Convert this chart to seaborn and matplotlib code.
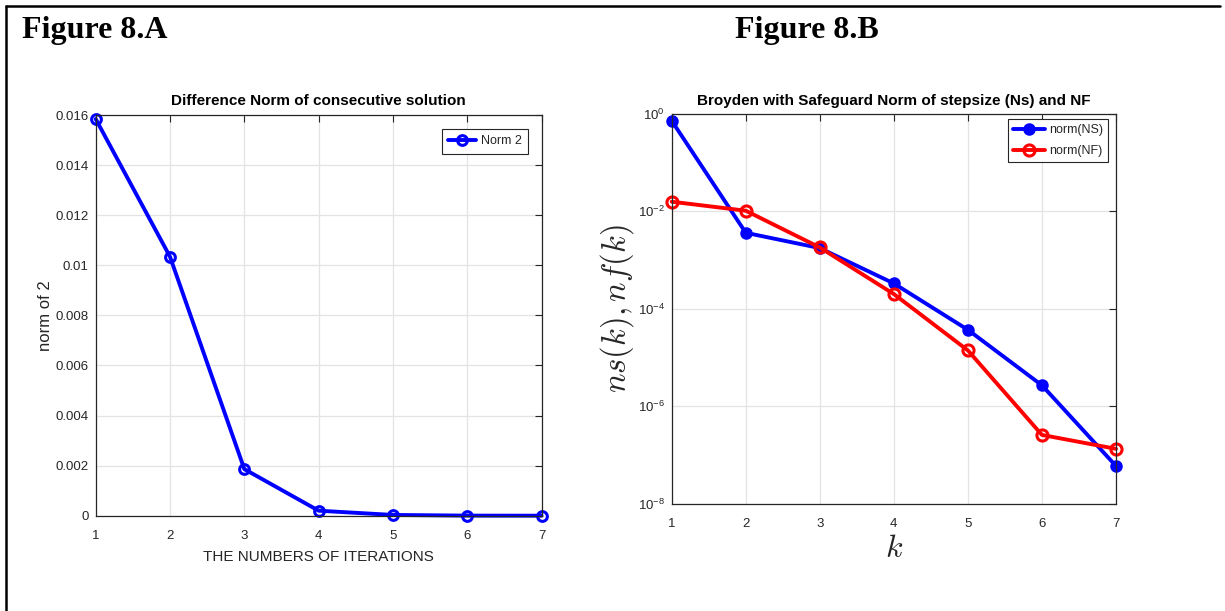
import numpy as np
import pandas as pd
import matplotlib
matplotlib.use("Agg")
import matplotlib.pyplot as plt
from matplotlib.lines import Line2D
from matplotlib.ticker import FixedLocator, FuncFormatter
import seaborn as sns

# ---- data -------------------------------------------------------------
iterations = [1, 2, 3, 4, 5, 6, 7]
norm2_diff = [0.01584, 0.01034, 0.00186, 0.00020, 0.00003, 0.000003, 0.0000001]

k_values = [1, 2, 3, 4, 5, 6, 7]
norm_ns = [0.71, 3.6e-3, 1.75e-3, 3.3e-4, 3.7e-5, 2.7e-6, 6.0e-8]
norm_nf = [0.0156, 0.0102, 1.8e-3, 2.0e-4, 1.4e-5, 2.6e-7, 1.35e-7]

left_yticks = [0, 0.002, 0.004, 0.006, 0.008, 0.01, 0.012, 0.014, 0.016]
left_yticklabels = ["0", "0.002", "0.004", "0.006", "0.008", "0.01", "0.012", "0.014", "0.016"]
log_exponents = [0, -2, -4, -6, -8]

# ---- style ------------------------------------------------------------
sns.set_theme(style="white")
plt.rcParams["font.family"] = ["Liberation Sans", "DejaVu Sans"]
plt.rcParams["mathtext.fontset"] = "custom"
plt.rcParams["mathtext.rm"] = "Liberation Sans"

TXT = "#262626"
GRID = "#e3e3e3"
BLUE = "#0000ff"
RED = "#ff0000"

W, H = 1225, 611
fig = plt.figure(figsize=(W / 100, H / 100), dpi=100)
fig.patch.set_facecolor("white")


def px_axes(x0, y0, x1, y1):
    return fig.add_axes([x0 / W, 1 - y1 / H, (x1 - x0) / W, (y1 - y0) / H])


def style_axes(ax):
    ax.set_facecolor("white")
    for s in ax.spines.values():
        s.set_visible(True)
        s.set_color(TXT)
        s.set_linewidth(0.9)
    ax.tick_params(axis="both", which="major", direction="in", length=5, width=0.8,
                   colors=TXT, labelsize=9.5, top=True, right=True,
                   labeltop=False, labelright=False)
    ax.tick_params(axis="x", pad=10)
    ax.tick_params(axis="y", pad=5)
    ax.tick_params(which="minor", left=False, right=False, bottom=False, top=False)
    ax.grid(True, which="major", color=GRID, linewidth=0.9)
    ax.set_axisbelow(True)


# ---- left panel: difference norm --------------------------------------
axL = px_axes(95.7, 115, 541.6, 515.7)
sns.lineplot(x=iterations, y=norm2_diff, ax=axL, color=BLUE, linewidth=2.8,
             marker="o", markersize=7, markerfacecolor="none",
             markeredgecolor=BLUE, markeredgewidth=2.2, label="Norm 2",
             clip_on=False)
axL.set_xlim(1, 7)
axL.set_ylim(0, 0.016)
axL.set_xticks(iterations)
axL.yaxis.set_major_locator(FixedLocator(left_yticks))
axL.set_yticklabels(left_yticklabels)
style_axes(axL)
axL.set_title("Difference Norm of consecutive solution", fontsize=11,
              fontweight="bold", color="black", pad=7)
axL.set_xlabel("THE NUMBERS OF ITERATIONS", fontsize=11, color=TXT, labelpad=6)
axL.set_ylabel("norm of 2", fontsize=12, color=TXT, labelpad=2)
legL = axL.legend(loc="upper right", bbox_to_anchor=(0.9695, 0.965),
                  fontsize=9, frameon=True, fancybox=False, edgecolor=TXT,
                  framealpha=1, handlelength=2.2, borderpad=0.5,
                  handletextpad=0.4, borderaxespad=0)
legL.get_frame().set_linewidth(0.8)

# ---- right panel: Broyden with safeguard ------------------------------
axR = px_axes(671.7, 113.5, 1116, 504)
sns.lineplot(x=k_values, y=norm_ns, ax=axR, color=BLUE, linewidth=2.8,
             marker="o", markersize=7, markerfacecolor=BLUE,
             markeredgecolor=BLUE, markeredgewidth=2.0, label="norm(NS)",
             clip_on=False)
sns.lineplot(x=k_values, y=norm_nf, ax=axR, color=RED, linewidth=2.8,
             marker="o", markersize=8, markerfacecolor="none",
             markeredgecolor=RED, markeredgewidth=2.2, label="norm(NF)",
             clip_on=False)
axR.set_yscale("log")
axR.set_xlim(1, 7)
axR.set_ylim(1e-8, 1e0)
axR.set_xticks(k_values)
axR.yaxis.set_major_locator(FixedLocator([10.0 ** e for e in log_exponents]))
axR.yaxis.set_major_formatter(
    FuncFormatter(lambda v, p: r"$\mathregular{10^{%d}}$" % int(round(np.log10(v)))))
style_axes(axR)
axR.set_title("Broyden with Safeguard Norm of stepsize (Ns) and NF", fontsize=11,
              fontweight="bold", color="black", pad=6)
axR.set_xlabel(r"$k$", fontsize=23, color=TXT, labelpad=3, math_fontfamily="cm")
axR.set_ylabel(r"$ns(k), nf(k)$", fontsize=23.5, color=TXT, labelpad=1,
               math_fontfamily="cm")
legR = axR.legend(loc="upper right", bbox_to_anchor=(0.982, 0.9859),
                  fontsize=9, frameon=True, fancybox=False, edgecolor=TXT,
                  framealpha=1, handlelength=2.6, borderpad=0.4,
                  handletextpad=0.3, labelspacing=0.75, borderaxespad=0)
legR.get_frame().set_linewidth(0.8)

# ---- panel captions and page frame ------------------------------------
fig.text(22 / W, 1 - 38 / H, "Figure 8.A", fontsize=23, fontweight="bold",
         family="Liberation Serif", color="black", va="baseline", ha="left")
fig.text(735 / W, 1 - 38 / H, "Figure 8.B", fontsize=23, fontweight="bold",
         family="Liberation Serif", color="black", va="baseline", ha="left")

fig.add_artist(Line2D([5.5 / W, 1220 / W], [1 - 5.5 / H, 1 - 5.5 / H],
                      transform=fig.transFigure, color="black", linewidth=1.8))
fig.add_artist(Line2D([5.5 / W, 5.5 / W], [0, 1 - 5.5 / H],
                      transform=fig.transFigure, color="black", linewidth=1.8))

fig.savefig("out.png", dpi=100)
